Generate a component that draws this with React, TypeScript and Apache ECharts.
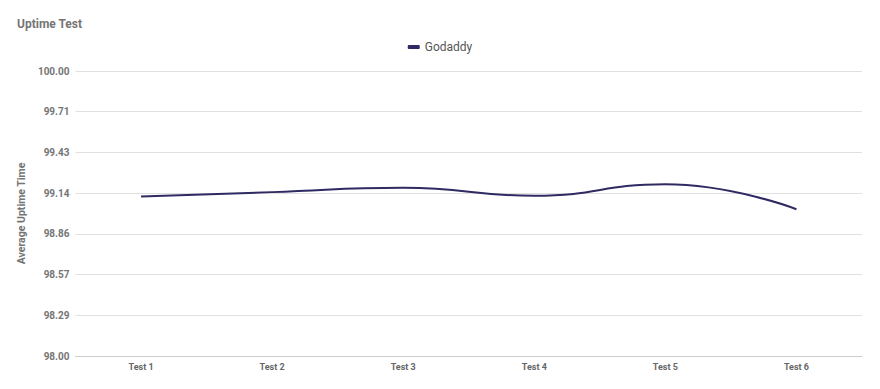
import React, { useEffect, useRef } from "react";
import * as echarts from "echarts";

const categories = ["Test 1", "Test 2", "Test 3", "Test 4", "Test 5", "Test 6"];
const godaddy = [99.12, 99.15, 99.18, 99.125, 99.205, 99.03];
const yMin = 98;
const yMax = 100;
const yInterval = 2 / 7;

export default function App() {
  const ref = useRef<HTMLDivElement>(null);
  useEffect(() => {
    if (!ref.current) return;
    const chart = echarts.init(ref.current, undefined, { renderer: "svg" });
    chart.setOption({
      animation: false,
      textStyle: { fontFamily: "Roboto" },
      title: {
        text: "Uptime Test",
        left: 4,
        top: 5,
        textStyle: { fontSize: 12, fontWeight: "bold", color: "#757575", fontFamily: "Roboto" },
      },
      legend: {
        data: ["Godaddy"],
        top: 28,
        left: "center",
        itemWidth: 12,
        itemHeight: 4,
        icon: "roundRect",
        textStyle: { fontSize: 12, color: "#555", fontFamily: "Roboto" },
      },
      grid: { left: 66, right: 10, top: 63, bottom: 25 },
      xAxis: {
        type: "category",
        data: categories,
        boundaryGap: true,
        axisLine: { lineStyle: { color: "#cccccc" } },
        axisTick: { show: false },
        axisLabel: { fontSize: 9, fontWeight: "bold", color: "#666", margin: 6 },
      },
      yAxis: {
        type: "value",
        min: yMin,
        max: yMax,
        interval: yInterval,
        name: "Average Uptime Time",
        nameLocation: "middle",
        nameGap: 48,
        nameTextStyle: { fontSize: 10.5, fontWeight: "bold", color: "#757575" },
        axisLine: { show: false },
        axisTick: { show: false },
        splitLine: { lineStyle: { color: "#e0e0e0" } },
        axisLabel: {
          fontSize: 10,
          fontWeight: "bold",
          color: "#757575",
          margin: 6,
          formatter: (v: number) => v.toFixed(2),
        },
      },
      series: [
        {
          name: "Godaddy",
          type: "line",
          data: godaddy,
          smooth: 0.5,
          symbol: "none",
          lineStyle: { color: "#2f2a62", width: 2 },
          itemStyle: { color: "#2f2a62" },
        },
      ],
    });
    return () => chart.dispose();
  }, []);
  return <div ref={ref} style={{ width: 864, height: 373 }} />;
}
